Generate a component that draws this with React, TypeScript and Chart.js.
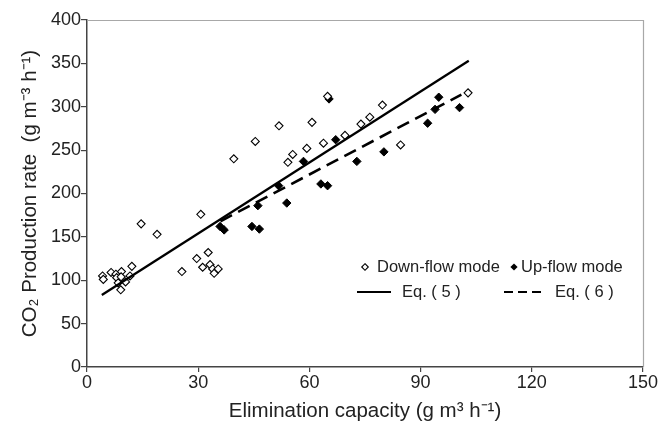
import React, { useEffect, useRef } from "react";
import { Chart, registerables } from "chart.js";

Chart.register(...registerables);

// Down-flow mode (open diamonds)
const downX = [4.2, 4.4, 6.5, 7.8, 8.0, 9.3, 9.2, 8.4, 9.1, 10.4, 11.6, 12.1, 14.6, 18.9, 25.6, 29.6, 30.7, 32.7, 31.2, 33.2, 33.9, 34.3, 35.4, 39.6, 45.4, 51.8, 54.2, 55.5, 59.3, 60.7, 63.8, 64.9, 69.6, 73.9, 76.3, 79.7, 84.6, 102.8];
const downY = [105, 101, 109, 107, 103, 110, 104, 97, 89, 98, 105, 116, 165, 153, 110, 125, 176, 132, 115, 118, 113, 108, 113, 240, 260, 278, 236, 245, 252, 282, 258, 312, 267, 280, 288, 302, 256, 316];

// Up-flow mode (filled diamonds)
const upX = [35.9, 37.0, 44.5, 46.1, 46.5, 51.7, 53.9, 58.4, 63.1, 64.9, 65.3, 67.1, 72.8, 80.1, 91.9, 93.9, 94.9, 100.5];
const upY = [162, 158, 162, 186, 159, 209, 189, 237, 211, 209, 309, 262, 237, 248, 281, 297, 311, 299];

// Fitted lines (end points)
const eq5X = [4, 103];
const eq5Y = [83, 353];
const eq6X = [36, 101];
const eq6Y = [168, 314];

const xTicks = [0, 30, 60, 90, 120, 150];
const yTicks = [0, 50, 100, 150, 200, 250, 300, 350, 400];

const legendLabels = ["Down-flow mode", "Up-flow mode", "Eq. ( 5 )", "Eq. ( 6 )"];

const FONT = "'Liberation Sans', Arial, Helvetica, sans-serif";

const zip = (xs: number[], ys: number[]) => xs.map((x, i) => ({ x, y: ys[i] }));

const framePlugin = {
  id: "frame",
  afterDraw(chart: any) {
    const { ctx, chartArea } = chart;
    const { left, right, top, bottom } = chartArea;
    ctx.save();
    ctx.strokeStyle = "#a8a8a8";
    ctx.lineWidth = 1.2;
    ctx.beginPath();
    ctx.moveTo(left, top + 0.5);
    ctx.lineTo(right + 0.5, top + 0.5);
    ctx.lineTo(right + 0.5, bottom);
    ctx.stroke();
    ctx.restore();
  },
};

const legendPlugin = {
  id: "customLegend",
  afterDraw(chart: any) {
    const { ctx } = chart;
    ctx.save();
    ctx.font = `16.5px ${FONT}`;
    ctx.fillStyle = "#222";
    ctx.textBaseline = "middle";
    ctx.textAlign = "left";
    const r1 = 267;
    const r2 = 292;
    const diamond = (cx: number, cy: number, r: number, fill: boolean) => {
      ctx.beginPath();
      ctx.moveTo(cx, cy - r);
      ctx.lineTo(cx + r, cy);
      ctx.lineTo(cx, cy + r);
      ctx.lineTo(cx - r, cy);
      ctx.closePath();
      if (fill) {
        ctx.fillStyle = "#000";
        ctx.fill();
      } else {
        ctx.fillStyle = "#fff";
        ctx.fill();
        ctx.strokeStyle = "#000";
        ctx.lineWidth = 1.1;
        ctx.stroke();
      }
      ctx.fillStyle = "#222";
    };
    diamond(365, r1, 3.3, false);
    ctx.fillText(legendLabels[0], 377, r1);
    diamond(514, r1, 3.6, true);
    ctx.fillText(legendLabels[1], 521, r1);

    ctx.strokeStyle = "#000";
    ctx.lineWidth = 2.2;
    ctx.beginPath();
    ctx.moveTo(357, r2);
    ctx.lineTo(391, r2);
    ctx.stroke();
    ctx.fillText(legendLabels[2], 402, r2);

    ctx.beginPath();
    ctx.setLineDash([9, 5]);
    ctx.moveTo(504, r2);
    ctx.lineTo(542, r2);
    ctx.stroke();
    ctx.setLineDash([]);
    ctx.fillText(legendLabels[3], 555, r2);
    ctx.restore();
  },
};

export default function App() {
  const ref = useRef<HTMLCanvasElement>(null);

  useEffect(() => {
    document.body.style.margin = "0";
    const canvas = ref.current;
    if (!canvas) return;
    const chart = new Chart(canvas, {
      type: "scatter",
      data: {
        datasets: [
          {
            label: "Eq. ( 5 )",
            type: "line",
            data: zip(eq5X, eq5Y),
            borderColor: "#000",
            borderWidth: 2.3,
            pointRadius: 0,
            fill: false,
          },
          {
            label: "Eq. ( 6 )",
            type: "line",
            data: zip(eq6X, eq6Y),
            borderColor: "#000",
            borderWidth: 2.6,
            borderDash: [13, 7],
            pointRadius: 0,
            fill: false,
          },
          {
            label: "Down-flow mode",
            data: zip(downX, downY),
            pointStyle: "rectRot",
            pointRadius: 4,
            backgroundColor: "#fff",
            borderColor: "#000",
            borderWidth: 1.1,
          },
          {
            label: "Up-flow mode",
            data: zip(upX, upY),
            pointStyle: "rectRot",
            pointRadius: 4.2,
            backgroundColor: "#000",
            borderColor: "#000",
            borderWidth: 1,
          },
        ],
      } as any,
      options: {
        responsive: false,
        animation: false,
        layout: { padding: { top: 20, right: 18, left: 0, bottom: 0 } },
        plugins: {
          legend: { display: false },
          tooltip: { enabled: false },
        },
        scales: {
          x: {
            type: "linear",
            min: 0,
            max: 150,
            afterFit: (s: any) => {
              s.height = 57;
            },
            afterBuildTicks: (s: any) => {
              s.ticks = xTicks.map((v) => ({ value: v }));
            },
            border: { display: true, color: "#444", width: 1.5 },
            grid: {
              display: true,
              drawOnChartArea: false,
              drawTicks: true,
              tickLength: 5,
              color: "#444",
              lineWidth: 1.2,
            },
            ticks: {
              padding: 2,
              color: "#222",
              font: { family: FONT, size: 18, lineHeight: 1 },
              maxRotation: 0,
            },
            title: {
              display: true,
              text: "Elimination capacity (g m³ h⁻¹)",
              color: "#222",
              font: { family: FONT, size: 20.5 },
              padding: { top: 0, bottom: 0 },
            },
          },
          y: {
            type: "linear",
            min: 0,
            max: 400,
            afterFit: (s: any) => {
              s.width = 87;
            },
            afterBuildTicks: (s: any) => {
              s.ticks = yTicks.map((v) => ({ value: v }));
            },
            border: { display: true, color: "#444", width: 1.5 },
            grid: {
              display: true,
              drawOnChartArea: false,
              drawTicks: true,
              tickLength: 6,
              color: "#444",
              lineWidth: 1.2,
            },
            ticks: {
              padding: 0,
              color: "#222",
              font: { family: FONT, size: 18 },
            },
            title: {
              display: true,
              text: "CO₂ Production rate  (g m⁻³ h⁻¹)",
              color: "#222",
              font: { family: FONT, size: 20.5 },
              padding: { top: 18.5, bottom: 0 },
            },
          },
        },
      },
      plugins: [framePlugin, legendPlugin],
    });
    return () => chart.destroy();
  }, []);

  return (
    <div style={{ width: 661, height: 424, background: "#fff" }}>
      <canvas ref={ref} width={661} height={424} />
    </div>
  );
}
